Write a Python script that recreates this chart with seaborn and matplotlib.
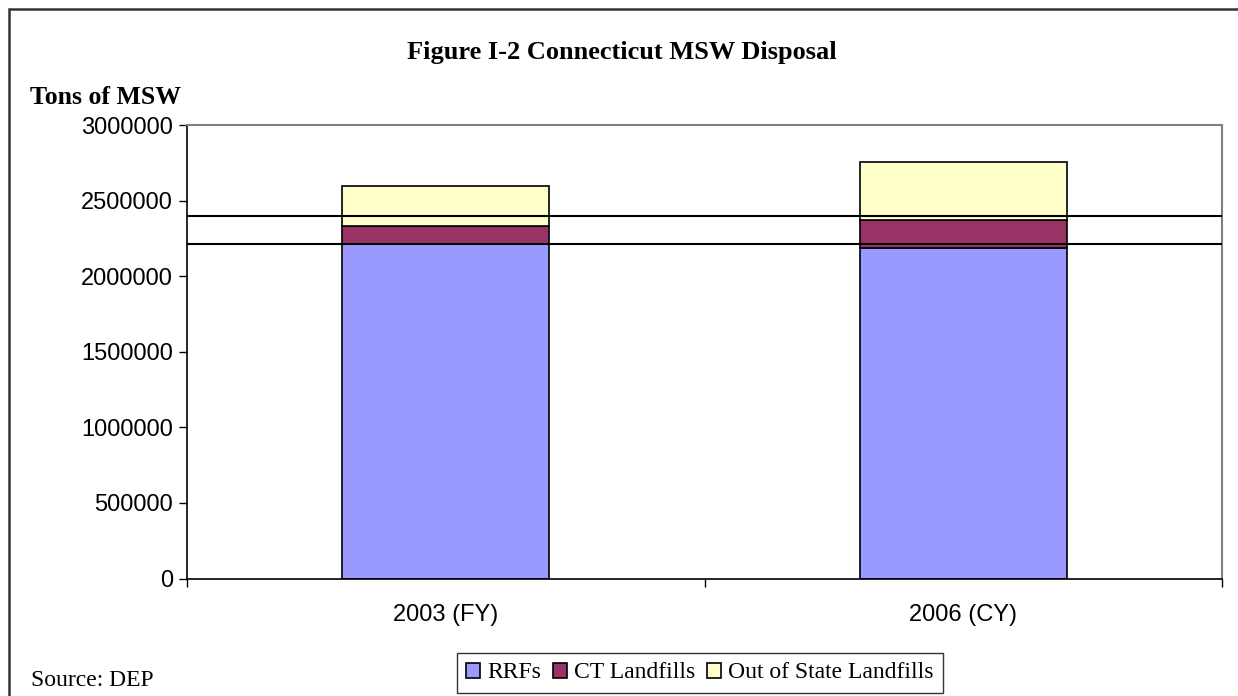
import matplotlib
matplotlib.use("Agg")
import matplotlib.pyplot as plt
import seaborn as sns
import pandas as pd
import numpy as np
from matplotlib.patches import Rectangle, Patch

# ---- data ----
years = ["2003 (FY)", "2006 (CY)"]
rrfs = [2210000, 2186000]
ct_landfills = [121000, 185000]
out_of_state = [265000, 383000]
ref_lines = [2400000, 2214000]
series_names = ["RRFs", "CT Landfills", "Out of State Landfills"]
colors = ["#9999FF", "#993366", "#FFFFCC"]

sns.set_style("white")
plt.rcParams["font.family"] = ["Liberation Sans", "DejaVu Sans"]
plt.rcParams["text.color"] = "black"
plt.rcParams["xtick.color"] = "black"
plt.rcParams["ytick.color"] = "black"
plt.rcParams["xtick.labelcolor"] = "black"
plt.rcParams["ytick.labelcolor"] = "black"

W, H = 1238, 696
fig = plt.figure(figsize=(W / 100, H / 100), dpi=100)
ax = fig.add_axes([187 / W, 1 - 578.5 / H, (1222 - 187) / W, (578.5 - 125) / H])

df = pd.DataFrame({"year": years, "RRFs": rrfs,
                   "CT Landfills": ct_landfills,
                   "Out of State Landfills": out_of_state})
bottom = np.zeros(len(years))
for name, col in zip(series_names, colors):
    sns.barplot(data=df, x="year", y=name, color=col, bottom=bottom,
                width=0.4, edgecolor="black", linewidth=1.2, saturation=1,
                ax=ax, zorder=2)
    bottom = bottom + df[name].to_numpy()

for v in ref_lines:
    ax.axhline(v, color="black", linewidth=1.5, zorder=5)

ax.set_ylim(0, 3000000)
ax.set_xlim(-0.5, 1.5)
ax.set_yticks(np.arange(0, 3000001, 500000))
ax.set_yticklabels([str(int(t)) for t in np.arange(0, 3000001, 500000)], fontsize=17, color="black")
ax.tick_params(axis="y", direction="out", length=6, width=1, color="black", left=True, pad=4)
ax.set_xticks([0, 1])
ax.set_xticklabels(years, fontsize=17, color="black")
ax.tick_params(axis="x", which="major", length=0, pad=18)
ax.set_xticks([-0.5, 0.5, 1.5], minor=True)
ax.tick_params(axis="x", which="minor", direction="out", length=6, width=1, color="black", bottom=True)
ax.set_xlabel("")
ax.set_ylabel("")

for s in ["left", "bottom"]:
    ax.spines[s].set_color("black")
    ax.spines[s].set_linewidth(1.2)
    ax.spines[s].set_visible(True)
for s in ["top", "right"]:
    ax.spines[s].set_color("#808080")
    ax.spines[s].set_linewidth(1.5)
    ax.spines[s].set_visible(True)

serif = ["Liberation Serif", "DejaVu Serif"]
fig.text(622 / W, 1 - 52 / H, "Figure I-2 Connecticut MSW Disposal", ha="center", va="center",
         fontsize=19, fontweight="bold", family=serif, color="black")
fig.text(30 / W, 1 - 97 / H, "Tons of MSW", ha="left", va="center",
         fontsize=18.5, fontweight="bold", family=serif, color="black")
fig.text(31 / W, 1 - 681 / H, "Source: DEP", ha="left", va="center",
         fontsize=17, family=serif, color="black")

handles = [Patch(facecolor=c, edgecolor="black", linewidth=1.2) for c in colors]
leg = fig.legend(handles, series_names, loc="center", bbox_to_anchor=(700 / W, 1 - 673 / H),
                 ncol=3, frameon=True, fancybox=False, prop={"family": serif, "size": 17},
                 handlelength=0.6, handleheight=0.6, handletextpad=0.3, columnspacing=0.5,
                 borderpad=0.4, edgecolor="black", labelcolor="black")
leg.get_frame().set_linewidth(1.0)

frame = Rectangle((9 / W, -0.1), 1.2, 1 - 9 / H + 0.1, transform=fig.transFigure,
                  fill=False, edgecolor="#333333", linewidth=1.8)
fig.patches.append(frame)

fig.savefig("out.png", dpi=100)
